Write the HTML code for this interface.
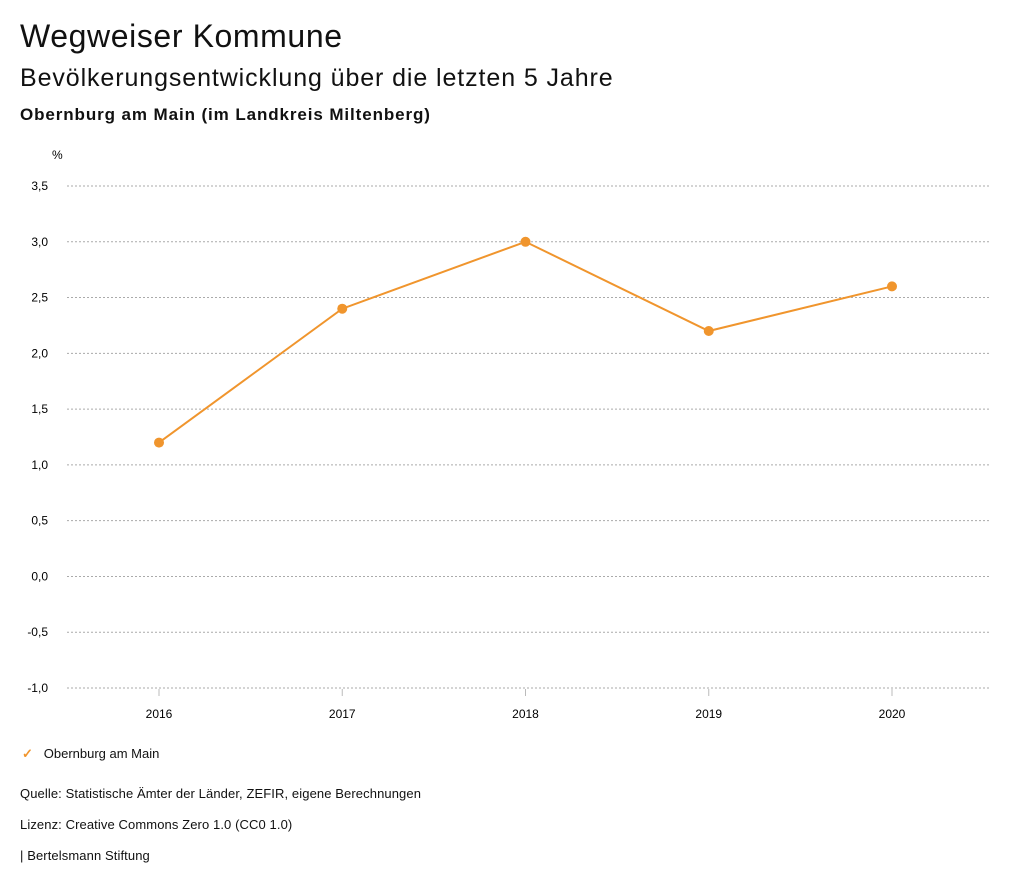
<!DOCTYPE html>
<html><head><meta charset="utf-8"><style>
body{margin:0;width:1024px;height:888px;background:#fff;font-family:"Liberation Sans",sans-serif;color:#111;position:relative;overflow:hidden}
.t{position:absolute;left:20px;white-space:nowrap}
</style></head><body>
<div class="t" style="top:18px;font-size:32px;letter-spacing:0.6px">Wegweiser Kommune</div>
<div class="t" style="top:64px;font-size:25px;letter-spacing:0.9px">Bevölkerungsentwicklung über die letzten 5 Jahre</div>
<div class="t" style="top:105px;font-size:17px;font-weight:bold;letter-spacing:0.9px">Obernburg am Main (im Landkreis Miltenberg)</div>
<svg id="chart" width="1024" height="888" style="position:absolute;left:0;top:0" font-family="Liberation Sans, sans-serif"></svg>
<div class="t" style="top:746px;font-size:13px;left:22px"><span style="color:#f0952d;font-weight:bold">✓</span>&nbsp;&nbsp;&nbsp;Obernburg am Main</div>
<div class="t" style="top:786px;font-size:13px;letter-spacing:0.1px">Quelle: Statistische Ämter der Länder, ZEFIR, eigene Berechnungen</div>
<div class="t" style="top:817px;font-size:13px;letter-spacing:0.1px">Lizenz: Creative Commons Zero 1.0 (CC0 1.0)</div>
<div class="t" style="top:848px;font-size:13px;letter-spacing:0.1px">| Bertelsmann Stiftung</div>
<script>
const years=["2016","2017","2018","2019","2020"];
const values=[1.2,2.4,3.0,2.2,2.6];
const yTicks=[3.5,3.0,2.5,2.0,1.5,1.0,0.5,0.0,-0.5,-1.0];
const svg=document.getElementById('chart');const NS='http://www.w3.org/2000/svg';
function el(t,a){const e=document.createElementNS(NS,t);for(const k in a)e.setAttribute(k,a[k]);svg.appendChild(e);return e;}
const y=v=>688-(v+1)*(502/4.5);
const x=i=>159+i*183.25;
const fmt=v=>v.toFixed(1).replace('.',',');
const u=el('text',{x:52,y:159,'font-size':12});u.textContent='%';


yTicks.forEach(v=>{
const g=el('line',{x1:67,x2:990,y1:y(v),y2:y(v),stroke:'#aaa','stroke-dasharray':'2,2'});


const t=el('text',{x:48,y:y(v)+4,'font-size':12,'text-anchor':'end'});t.textContent=fmt(v);


});
years.forEach((yr,i)=>{
el('line',{x1:x(i),x2:x(i),y1:689,y2:696,stroke:'#bbb'});
const t=el('text',{x:x(i),y:718,'font-size':12,'text-anchor':'middle'});t.textContent=yr;


});
const p=el('polyline',{points:values.map((v,i)=>x(i)+','+y(v)).join(' '),fill:'none',stroke:'#f0952d','stroke-width':2});


values.forEach((v,i)=>{
const c=el('circle',{cx:x(i),cy:y(v),r:5,fill:'#f0952d'});


});
</script>
</body></html>
